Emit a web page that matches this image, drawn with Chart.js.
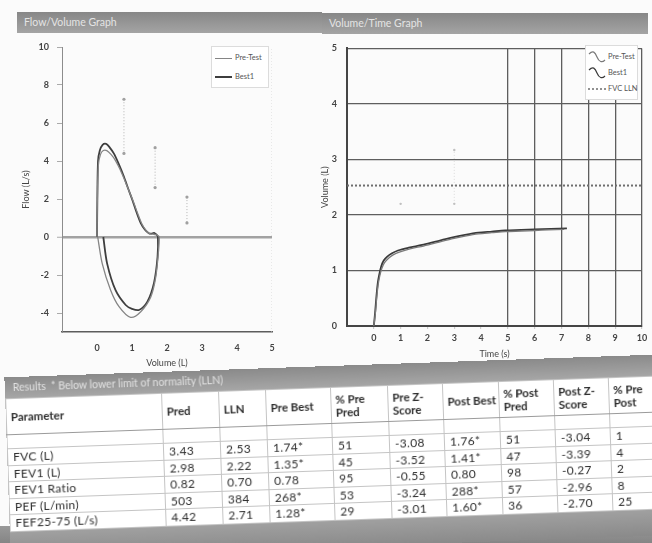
<!DOCTYPE html>
<html><head><meta charset="utf-8">
<script src="https://cdn.jsdelivr.net/npm/chart.js@4.4.1/dist/chart.umd.min.js"></script>
<style>
html,body{margin:0;padding:0;background:#fff;}
#wrap{position:relative;width:652px;height:543px;overflow:hidden;background:#fbfbfb;font-family:Lato,"Open Sans",sans-serif;color:#333;}
.bar{position:absolute;height:21px;background:linear-gradient(#878787,#a4a4a4);color:#e4e4e4;font-size:10.5px;line-height:21px;padding-left:7px;box-sizing:border-box;white-space:nowrap;}
canvas{position:absolute;}
.leg{position:absolute;border:1px solid #dcdcdc;background:#fff;font-size:7.5px;color:#555;box-sizing:border-box;}
.leg .it{position:absolute;left:0;height:12px;line-height:12px;white-space:nowrap;}
.leg .sw{display:inline-block;vertical-align:middle;}
#band{position:absolute;left:0;top:526px;width:652px;height:17px;background:linear-gradient(#999,#858585);}
#results{position:absolute;left:7px;top:366px;width:664px;transform:rotate(-2deg);transform-origin:324px 80px;}
#results .rbar{height:21px;background:linear-gradient(#8a8a8a,#a6a6a6);color:#e2e2e2;font-size:10.5px;line-height:21px;padding-left:8px;}
#tbl{border-collapse:collapse;table-layout:fixed;width:664px;font-size:12px;color:#2e2e2e;background:#fff;}
#tbl td,#tbl th{border:1px solid #c4c4c4;padding:0 0 0 5px;text-align:left;overflow:hidden;white-space:nowrap;}
#tbl th{font-weight:bold;font-size:11.5px;height:35px;line-height:13px;vertical-align:middle;border-bottom:1px solid #9a9a9a;padding-left:4px;}
#tbl td{height:15.5px;line-height:15px;letter-spacing:0.3px;}
#tbl tr.empty td{height:13px;}
#results .bbar{height:26px;background:linear-gradient(#a0a0a0,#8a8a8a);}
</style></head>
<body>
<div id="wrap">
  <div class="bar" style="left:17px;top:12px;width:305px;">Flow/Volume Graph</div>
  <div class="bar" style="left:322px;top:13px;width:326px;">Volume/Time Graph</div>
  <canvas id="fv" width="320" height="337" style="left:0;top:33px;"></canvas>
  <canvas id="vt" width="332" height="335" style="left:320px;top:33px;"></canvas>
  <div id="legFV" class="leg" style="left:211px;top:46px;width:58px;height:42px;"></div>
  <div id="legVT" class="leg" style="left:585px;top:45px;width:53px;height:55px;"></div>
  <div id="band"></div>
  <div id="results">
    <div class="rbar">Results&nbsp;&nbsp;* Below lower limit of normality (LLN)</div>
    <table id="tbl"></table>
    <div class="bbar"></div>
  </div>
</div>
<script>
// ---------- Flow / Volume data ----------
const preVolume = [0,0.01,0.04,0.10,0.18,0.28,0.40,0.52,0.66,0.80,0.93,1.04,1.16,1.28,1.40,1.50,1.60,1.68,1.76,1.78,
                   1.76,1.68,1.54,1.25,0.96,0.63,0.39,0.15,0.02];
const preFlow   = [0,1.9,3.8,4.35,4.55,4.55,4.35,4.05,3.55,2.95,2.35,1.85,1.25,0.70,0.35,0.18,0.15,0.12,0.05,0,
                   -0.68,-2.09,-3.14,-3.93,-4.23,-3.67,-2.80,-1.40,0];
const bestVolume = [0,0.01,0.03,0.08,0.16,0.26,0.36,0.48,0.62,0.77,0.90,1.01,1.13,1.25,1.37,1.48,1.56,1.63,1.70,1.74,
                    1.73,1.63,1.44,1.20,1.00,0.82,0.53,0.29,0.18];
const bestFlow   = [0,2.0,4.0,4.55,4.85,4.90,4.72,4.40,3.85,3.17,2.50,1.95,1.30,0.73,0.38,0.20,0.18,0.22,0.12,0,
                    -1.04,-2.40,-3.40,-3.84,-3.78,-3.58,-2.80,-1.40,0];
const markerVolume = [0.77,1.66,2.57];
const markerHigh   = [7.25,4.70,2.10];
const markerLow    = [4.40,2.60,0.74];
const fvVolumeTicks = [0,1,2,3,4,5];
const fvFlowTicks   = [-4,-2,0,2,4,6,8,10];

// ---------- Volume / Time data ----------
const preTime   = [0,0.06,0.11,0.16,0.22,0.30,0.40,0.55,0.72,0.95,1.35,1.85,2.35,2.90,3.40,3.90,4.40,4.90,5.50,6.00,6.50,7.10];
const preVol    = [0,0.24,0.52,0.74,0.90,1.04,1.14,1.22,1.28,1.33,1.39,1.44,1.50,1.57,1.62,1.66,1.68,1.70,1.71,1.72,1.73,1.74];
const bestTime  = [0,0.05,0.10,0.15,0.20,0.28,0.37,0.50,0.68,0.90,1.30,1.80,2.30,2.90,3.40,3.90,4.40,4.90,5.50,6.00,6.60,7.20];
const bestVol   = [0,0.25,0.55,0.78,0.92,1.08,1.18,1.25,1.31,1.36,1.41,1.46,1.52,1.59,1.64,1.68,1.70,1.72,1.73,1.74,1.75,1.76];
const fvcLLN    = 2.53;
const fevMarkTime = [1,3,3];
const fevMarkVol  = [2.20,2.20,3.17];
const timeTicks   = [0,1,2,3,4,5,6,7,8,9,10];
const volumeTicks = [0,1,2,3,4,5];

// ---------- Results table ----------
const colHeaders  = ['Parameter','Pred','LLN','Pre Best','% Pre<br>Pred','Pre Z-<br>Score','Post Best','% Post<br>Pred','Post Z-<br>Score','% Pre<br>Post'];
const paramNames  = ['FVC (L)','FEV1 (L)','FEV1 Ratio','PEF (L/min)','FEF25-75 (L/s)'];
const predVals    = ['3.43','2.98','0.82','503','4.42'];
const llnVals     = ['2.53','2.22','0.70','384','2.71'];
const preBest     = ['1.74*','1.35*','0.78','268*','1.28*'];
const pctPrePred  = ['51','45','95','53','29'];
const preZ        = ['-3.08','-3.52','-0.55','-3.24','-3.01'];
const postBest    = ['1.76*','1.41*','0.80','288*','1.60*'];
const pctPostPred = ['51','47','98','57','36'];
const postZ       = ['-3.04','-3.39','-0.27','-2.96','-2.70'];
const pctPrePost  = ['1','4','2','8','25'];
const colWidths   = [156,57,47,65,57,55,56,55,55,61];

Chart.defaults.font.family = 'Lato, "Open Sans", sans-serif';
Chart.defaults.color = '#3c3c3c';

function pts(xs, ys){ return xs.map((x,i)=>({x:x, y:ys[i]})); }
function fixTicks(values){ return function(scale){ scale.ticks = values.map(v=>({value:v})); }; }
const clear = 'rgba(0,0,0,0)';

const markerSets = markerVolume.map((v,i)=>({
  label:'marker'+i, data:[{x:v,y:markerHigh[i]},{x:v,y:markerLow[i]}], showLine:true,
  borderColor:'#b4b4b4', borderWidth:1, borderDash:[1,2], pointRadius:1.6,
  pointBackgroundColor:'#a0a0a0', pointBorderWidth:0
}));

const fv = new Chart(document.getElementById('fv'), {
  type:'scatter',
  data:{datasets:[
    {label:'Pre-Test', data:pts(preVolume,preFlow), showLine:true, borderColor:'#858585', borderWidth:1.3, pointRadius:0, tension:0.3},
    {label:'Best1', data:pts(bestVolume,bestFlow), showLine:true, borderColor:'#3e3e3e', borderWidth:1.8, pointRadius:0, tension:0.3},
    ...markerSets,
    {label:'edge', data:[{x:5,y:-5},{x:5,y:10}], showLine:true, borderColor:'#d4d4d4', borderWidth:1, borderDash:[1,2], pointRadius:0}
  ]},
  options:{
    responsive:false, animation:false, events:[],
    layout:{padding:{top:14,right:48,left:0,bottom:0}},
    plugins:{legend:{display:false}, tooltip:{enabled:false}},
    scales:{
      x:{type:'linear', min:-1, max:5, afterBuildTicks:fixTicks(fvVolumeTicks), afterFit:s=>{s.height=38;},
         grid:{display:false}, border:{color:'#5c5c5c', width:1.6},
         ticks:{padding:3, font:{size:9, weight:'bold'}, color:'#444'},
         title:{display:true, text:'Volume (L)', font:{size:9}, color:'#444', padding:{top:0,bottom:2}}},
      y:{type:'linear', min:-5, max:10, afterBuildTicks:fixTicks(fvFlowTicks), afterFit:s=>{s.width=62;},
         grid:{color:c=>(c.tick && c.tick.value===0)?'#a2a2a2':clear, lineWidth:c=>(c.tick && c.tick.value===0)?2.5:1,
               drawTicks:true, tickLength:5, tickColor:'#aaa', tickWidth:1},
         border:{color:'#8c8c8c', width:1},
         ticks:{padding:8, font:{size:9, weight:'bold'}, color:'#444'},
         title:{display:true, text:'Flow (L/s)', font:{size:9}, color:'#444', padding:{top:21,bottom:0}}}
    }
  }
});

const vt = new Chart(document.getElementById('vt'), {
  type:'scatter',
  data:{datasets:[
    {label:'Pre-Test', data:pts(preTime,preVol), showLine:true, borderColor:'#7a7a7a', borderWidth:1.3, pointRadius:0, tension:0.3},
    {label:'Best1', data:pts(bestTime,bestVol), showLine:true, borderColor:'#3a3a3a', borderWidth:1.8, pointRadius:0, tension:0.3},
    {label:'FVC LLN', data:[{x:-1,y:fvcLLN},{x:10,y:fvcLLN}], showLine:true, borderColor:'#6e6e6e', borderWidth:2, borderDash:[2,2], pointRadius:0},
    {label:'fevmarks', data:pts(fevMarkTime,fevMarkVol), showLine:false, pointRadius:1.2, pointBackgroundColor:'#c0c0c0', pointBorderWidth:0},
    {label:'fevline', data:pts(fevMarkTime.slice(1),fevMarkVol.slice(1)), showLine:true, borderColor:'#dadada', borderWidth:1, borderDash:[1,2], pointRadius:0}
  ]},
  options:{
    responsive:false, animation:false, events:[],
    layout:{padding:{top:15,right:10,left:0,bottom:0}},
    plugins:{legend:{display:false}, tooltip:{enabled:false}},
    scales:{
      x:{type:'linear', min:-1, max:10, afterBuildTicks:fixTicks(timeTicks), afterFit:s=>{s.height=42;},
         grid:{color:c=>(c.tick && c.tick.value>=5)?'#5e5e5e':clear, lineWidth:1.3, drawTicks:true, tickLength:3, tickColor:'#c4c4c4', tickWidth:1},
         border:{color:'#454545', width:2},
         ticks:{padding:4, font:{size:9, weight:'bold'}, color:'#444'},
         title:{display:true, text:'Time (s)', font:{size:9}, color:'#444', padding:{top:0,bottom:9}}},
      y:{type:'linear', min:0, max:5, afterBuildTicks:fixTicks(volumeTicks), afterFit:s=>{s.width=27;},
         grid:{color:'#5e5e5e', lineWidth:1.3, drawTicks:false},
         border:{color:'#454545', width:2},
         ticks:{padding:10, font:{size:9, weight:'bold'}, color:'#444'},
         title:{display:true, text:'Volume (L)', font:{size:9}, color:'#444', padding:{top:0,bottom:0}}}
    }
  }
});

// ---------- HTML legends built from the datasets ----------
(function(){
  const box = document.getElementById('legFV');
  fv.data.datasets.slice(0,2).forEach((d,i)=>{
    const it = document.createElement('div'); it.className='it'; it.style.top=(5+i*19)+'px';
    it.innerHTML = '<span class="sw" style="width:17px;height:0;border-top:'+(i?2:1.3)+'px solid '+d.borderColor+';margin:0 3px 0 3px"></span>'+d.label;
    box.appendChild(it);
  });
  const box2 = document.getElementById('legVT');
  vt.data.datasets.slice(0,3).forEach((d,i)=>{
    const it = document.createElement('div'); it.className='it'; it.style.top=(5+i*16)+'px';
    let sw;
    if (d.borderDash) {
      sw = '<svg class="sw" width="18" height="6" style="margin:0 2px 0 2px"><line x1="0" y1="3" x2="18" y2="3" stroke="'+d.borderColor+'" stroke-width="1.6" stroke-dasharray="2,2"/></svg>';
    } else {
      sw = '<svg class="sw" width="18" height="12" style="margin:0 2px 0 2px"><path d="M1,3 C5,-1 7,1 9,6 C11,11 14,12 17,9" fill="none" stroke="'+d.borderColor+'" stroke-width="1.2"/></svg>';
    }
    it.innerHTML = sw + d.label;
    box2.appendChild(it);
  });
})();

// ---------- Results table ----------
(function(){
  const t = document.getElementById('tbl');
  let html = '<colgroup>' + colWidths.map(w=>'<col style="width:'+w+'px">').join('') + '</colgroup>';
  html += '<tr>' + colHeaders.map(h=>'<th>'+h+'</th>').join('') + '</tr>';
  html += '<tr class="empty">' + colHeaders.map(()=>'<td></td>').join('') + '</tr>';
  const cols = [paramNames,predVals,llnVals,preBest,pctPrePred,preZ,postBest,pctPostPred,postZ,pctPrePost];
  paramNames.forEach((_,r)=>{
    html += '<tr>' + cols.map(c=>'<td>'+c[r]+'</td>').join('') + '</tr>';
  });
  t.innerHTML = html;
})();
</script>
</body></html>
